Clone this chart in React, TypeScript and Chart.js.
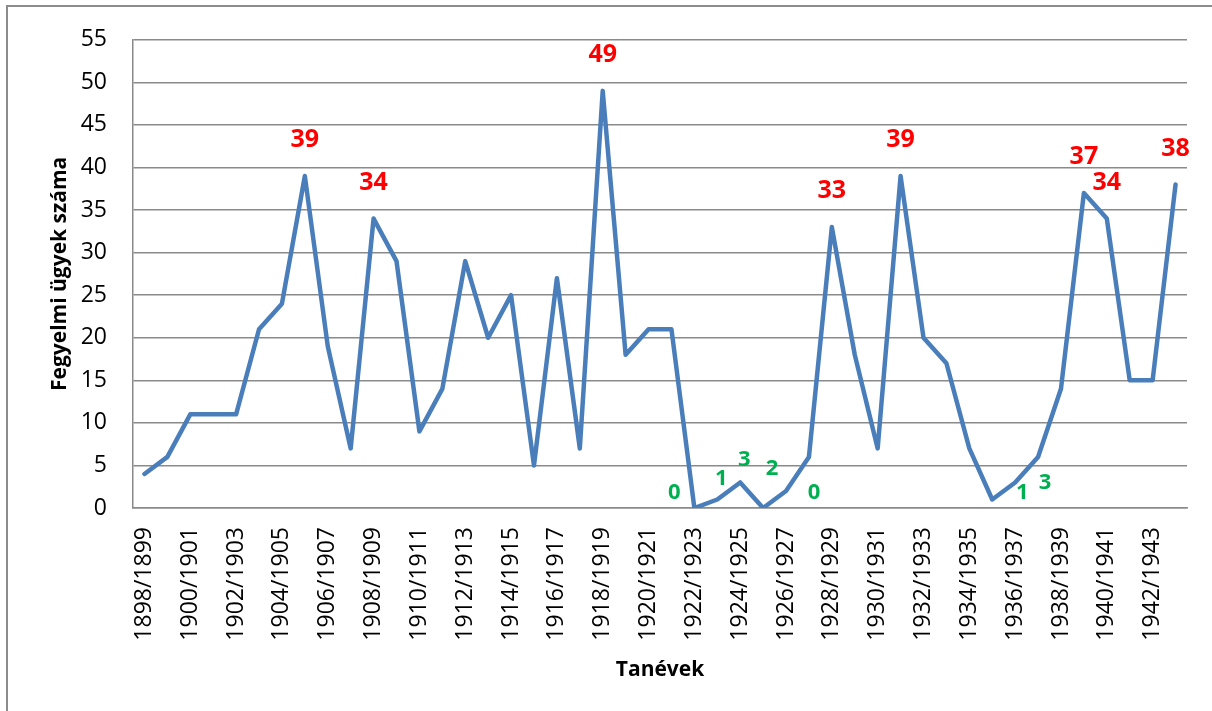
import React, { useEffect, useRef } from "react";
import { Chart, registerables } from "chart.js";

Chart.register(...registerables);

const categories = [
  "1898/1899", "1899/1900", "1900/1901", "1901/1902", "1902/1903", "1903/1904",
  "1904/1905", "1905/1906", "1906/1907", "1907/1908", "1908/1909", "1909/1910",
  "1910/1911", "1911/1912", "1912/1913", "1913/1914", "1914/1915", "1915/1916",
  "1916/1917", "1917/1918", "1918/1919", "1919/1920", "1920/1921", "1921/1922",
  "1922/1923", "1923/1924", "1924/1925", "1925/1926", "1926/1927", "1927/1928",
  "1928/1929", "1929/1930", "1930/1931", "1931/1932", "1932/1933", "1933/1934",
  "1934/1935", "1935/1936", "1936/1937", "1937/1938", "1938/1939", "1939/1940",
  "1940/1941", "1941/1942", "1942/1943", "1943/1944",
];

const values = [
  4, 6, 11, 11, 11, 21, 24, 39, 19, 7, 34, 29, 9, 14, 29, 20, 25, 5, 27, 7, 49,
  18, 21, 21, 0, 1, 3, 0, 2, 6, 33, 18, 7, 39, 20, 17, 7, 1, 3, 6, 14, 37, 34,
  15, 15, 38,
];

const yTicks = [0, 5, 10, 15, 20, 25, 30, 35, 40, 45, 50, 55];

// Red peak labels (category indices)
const redLabelIdx = [7, 10, 20, 30, 33, 41, 42, 45];
// Green low labels (category indices) with their text offsets
const greenLabelIdx = [24, 25, 26, 28, 27, 37, 38];
const greenDx = [-20, 4, 4, -14, 51, 30, 30];
const greenDy = [-15, -21, -23, -22, -15, -7, 0];

const FONT = "'Open Sans', 'Noto Sans', sans-serif";
const GRID = "#8a8a8a";

const labelPlugin = {
  id: "valueLabels",
  afterDatasetsDraw(chart: any) {
    const meta = chart.getDatasetMeta(0);
    const ctx = chart.ctx;
    ctx.save();
    ctx.textAlign = "center";
    ctx.textBaseline = "middle";
    ctx.font = `bold 25px ${FONT}`;
    ctx.fillStyle = "#FF0000";
    redLabelIdx.forEach((i) => {
      const p = meta.data[i];
      ctx.fillText(String(values[i]), p.x, p.y - 36);
    });
    ctx.font = `bold 22px ${FONT}`;
    ctx.fillStyle = "#00B050";
    greenLabelIdx.forEach((i, k) => {
      const p = meta.data[i];
      ctx.fillText(String(values[i]), p.x + greenDx[k], p.y + greenDy[k]);
    });
    ctx.restore();
  },
};

export default function App() {
  const ref = useRef<HTMLCanvasElement | null>(null);

  useEffect(() => {
    if (!ref.current) return;
    const chart = new Chart(ref.current, {
      type: "line",
      data: {
        labels: categories,
        datasets: [
          {
            data: values,
            borderColor: "#4A7EBB",
            borderWidth: 4.5,
            pointRadius: 0,
            tension: 0,
            fill: false,
            borderJoinStyle: "round",
            borderCapStyle: "round",
          },
        ],
      },
      options: {
        responsive: false,
        animation: false,
        events: [],
        layout: { padding: { left: 0, top: 36, right: 25, bottom: 0 } },
        plugins: {
          legend: { display: false },
          tooltip: { enabled: false },
        },
        scales: {
          x: {
            type: "category",
            offset: true,
            grid: { display: false, drawTicks: false },
            border: { display: true, color: GRID, width: 1.5 },
            ticks: {
              autoSkip: false,
              minRotation: 90,
              maxRotation: 90,
              padding: 19,
              color: "#000",
              font: { family: FONT, size: 23 },
              callback: (_v: any, i: number) => (i % 2 === 0 ? categories[i] : ""),
            },
            title: {
              display: true,
              text: "Tanévek",
              color: "#000",
              font: { family: FONT, size: 21, weight: "bold" },
              padding: { top: 0, bottom: 28 },
            },
            afterFit: (s: any) => {
              s.height = 203;
              s.paddingLeft = 0;
              s.paddingRight = 0;
            },
          },
          y: {
            min: 0,
            max: 55,
            afterBuildTicks: (s: any) => {
              s.ticks = yTicks.map((v) => ({ value: v }));
            },
            grid: { color: GRID, lineWidth: 1.5, drawTicks: false },
            border: { display: true, color: GRID, width: 1.5 },
            ticks: {
              padding: 26,
              color: "#000",
              font: { family: FONT, size: 23 },
            },
            title: {
              display: true,
              text: "Fegyelmi ügyek száma",
              color: "#000",
              font: { family: FONT, size: 21, weight: "bold" },
              padding: { top: 47, bottom: 0 },
            },
            afterFit: (s: any) => {
              s.width = 133;
            },
          },
        },
      } as any,
      plugins: [labelPlugin],
    });
    return () => chart.destroy();
  }, []);

  return (
    <div
      style={{
        position: "fixed",
        left: 0,
        top: 0,
        width: 1212,
        height: 711,
        background: "#fff",
        overflow: "hidden",
      }}
    >
      <div
        style={{
          position: "absolute",
          left: 6,
          top: 5,
          width: 1230,
          height: 730,
          borderLeft: "2px solid #8c8c8c",
          borderTop: "2px solid #8c8c8c",
        }}
      />
      <canvas
        ref={ref}
        width={1212}
        height={711}
        style={{ position: "absolute", left: 0, top: 0, width: 1212, height: 711 }}
      />
    </div>
  );
}
